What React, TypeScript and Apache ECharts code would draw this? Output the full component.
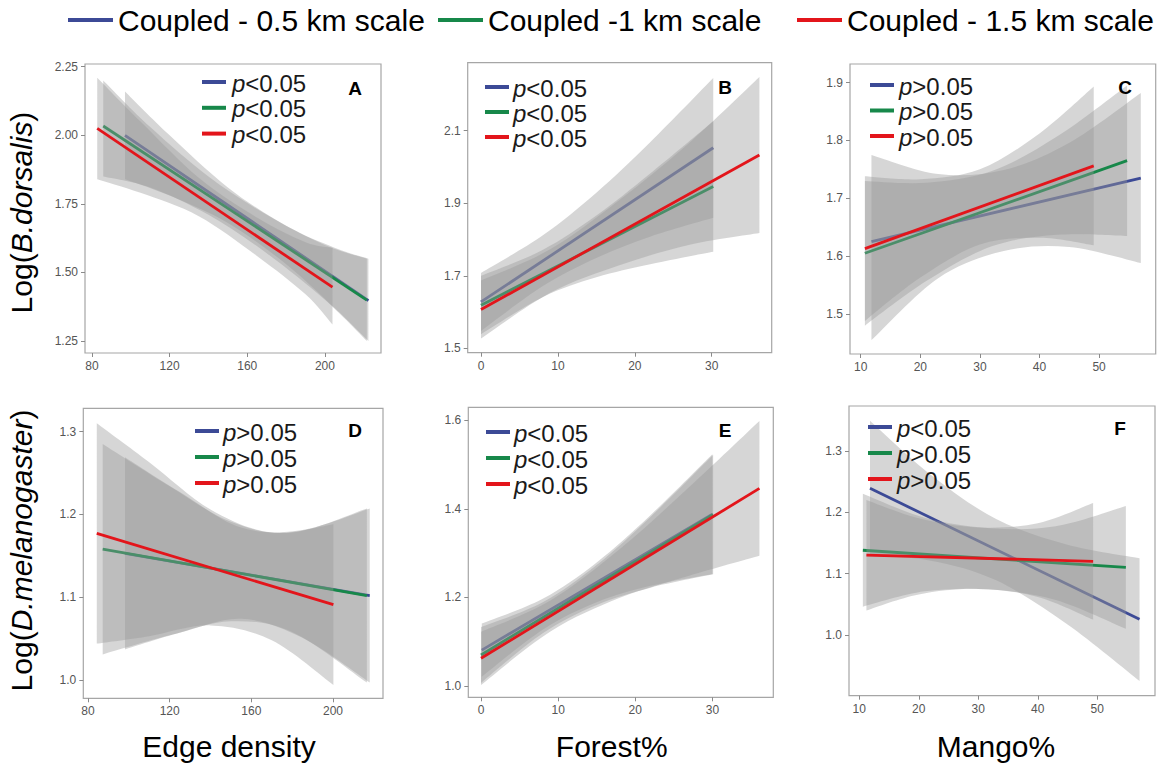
import React, { useEffect, useRef } from 'react';
import * as echarts from 'echarts';

// ---------- legend / labels ----------
const legendNames = ['Coupled - 0.5 km scale', 'Coupled -1 km scale', 'Coupled - 1.5 km scale'];
const lineColors = ['#3c4a96', '#17884a', '#e3151b'];
const panelLetters = ['A', 'B', 'C', 'D', 'E', 'F'];
const xTitles = ['Edge density', 'Forest%', 'Mango%'];
const pLabelsA = ['<0.05', '<0.05', '<0.05'];
const pLabelsB = ['<0.05', '<0.05', '<0.05'];
const pLabelsC = ['>0.05', '>0.05', '>0.05'];
const pLabelsD = ['>0.05', '>0.05', '>0.05'];
const pLabelsE = ['<0.05', '<0.05', '<0.05'];
const pLabelsF = ['<0.05', '>0.05', '>0.05'];

// ---------- ticks ----------
const xTicksEdge = [80, 120, 160, 200];
const xTicksForest = [0, 10, 20, 30];
const xTicksMango = [10, 20, 30, 40, 50];
const yTicksA = [1.25, 1.5, 1.75, 2.0, 2.25];
const yTicksB = [1.5, 1.7, 1.9, 2.1];
const yTicksC = [1.5, 1.6, 1.7, 1.8, 1.9];
const yTicksD = [1.0, 1.1, 1.2, 1.3];
const yTicksE = [1.0, 1.2, 1.4, 1.6];
const yTicksF = [1.0, 1.1, 1.2, 1.3];

// ---------- Panel A : B.dorsalis vs edge density ----------
const aBlueLine = [[97, 2.0], [222.4, 1.397]];
const aGreenLine = [[85.8, 2.034], [221.6, 1.399]];
const aRedLine = [[82.7, 2.025], [203.9, 1.446]];
const aBlueBandX = [97, 120, 150, 180, 205, 222.4];
const aBlueBandHi = [2.16, 2.0, 1.81, 1.67, 1.59, 1.55];
const aBlueBandLo = [1.84, 1.78, 1.68, 1.53, 1.37, 1.25];
const aGreenBandX = [85.8, 110, 140, 170, 200, 221.6];
const aGreenBandHi = [2.2, 2.03, 1.85, 1.71, 1.6, 1.55];
const aGreenBandLo = [1.85, 1.81, 1.71, 1.57, 1.4, 1.25];
const aRedBandX = [82.7, 105, 135, 165, 190, 203.9];
const aRedBandHi = [2.21, 2.05, 1.845, 1.7, 1.61, 1.59];
const aRedBandLo = [1.84, 1.79, 1.705, 1.56, 1.42, 1.31];

// ---------- Panel B : B.dorsalis vs forest% ----------
const bBlueLine = [[0, 1.628], [30.2, 2.053]];
const bGreenLine = [[0, 1.619], [30.2, 1.946]];
const bRedLine = [[0, 1.607], [36.2, 2.033]];
const bBlueBandX = [0, 8, 15, 22, 30.2];
const bBlueBandHi = [1.708, 1.811, 1.929, 2.068, 2.245];
const bBlueBandLo = [1.548, 1.671, 1.749, 1.808, 1.86];
const bGreenBandX = [0, 8, 15, 22, 30.2];
const bGreenBandHi = [1.7, 1.771, 1.866, 1.982, 2.126];
const bGreenBandLo = [1.539, 1.641, 1.696, 1.732, 1.766];
const bRedBandX = [0, 9, 18, 27, 36.2];
const bRedBandHi = [1.687, 1.773, 1.909, 2.065, 2.248];
const bRedBandLo = [1.527, 1.653, 1.729, 1.785, 1.818];

// ---------- Panel C : B.dorsalis vs mango% ----------
const cBlueLine = [[11.8, 1.625], [57.0, 1.735]];
const cGreenLine = [[10.7, 1.605], [54.7, 1.765]];
const cRedLine = [[10.7, 1.613], [49.1, 1.756]];
const cBlueBandX = [11.8, 23, 34, 45, 57];
const cBlueBandHi = [1.775, 1.742, 1.749, 1.796, 1.882];
const cBlueBandLo = [1.455, 1.562, 1.609, 1.616, 1.588];
const cGreenBandX = [10.7, 21, 32, 43, 54.7];
const cGreenBandHi = [1.73, 1.727, 1.747, 1.807, 1.895];
const cGreenBandLo = [1.48, 1.557, 1.617, 1.637, 1.635];
const cRedBandX = [10.7, 20, 30, 40, 49.1];
const cRedBandHi = [1.738, 1.733, 1.75, 1.812, 1.893];
const cRedBandLo = [1.488, 1.563, 1.62, 1.632, 1.619];

// ---------- Panel D : D.melanogaster vs edge density ----------
const dBlueLine = [[98.1, 1.153], [218, 1.102]];
const dGreenLine = [[87.2, 1.158], [216.6, 1.102]];
const dRedLine = [[84.3, 1.177], [200.2, 1.091]];
const dBlueBandX = [98.1, 125, 155, 185, 218];
const dBlueBandHi = [1.269, 1.227, 1.184, 1.181, 1.207];
const dBlueBandLo = [1.037, 1.057, 1.074, 1.051, 0.997];
const dGreenBandX = [87.2, 120, 150, 180, 216.6];
const dGreenBandHi = [1.285, 1.234, 1.191, 1.178, 1.207];
const dGreenBandLo = [1.031, 1.054, 1.071, 1.058, 0.997];
const dRedBandX = [84.3, 110, 140, 170, 200.2];
const dRedBandHi = [1.31, 1.263, 1.206, 1.178, 1.188];
const dRedBandLo = [1.044, 1.053, 1.066, 1.048, 0.994];

// ---------- Panel E : D.melanogaster vs forest% ----------
const eBlueLine = [[0.1, 1.081], [30, 1.388]];
const eGreenLine = [[0, 1.07], [30.1, 1.387]];
const eRedLine = [[0, 1.0625], [36.1, 1.446]];
const eBlueBandX = [0.1, 8, 15, 22, 30];
const eBlueBandHi = [1.141, 1.197, 1.279, 1.386, 1.523];
const eBlueBandLo = [1.021, 1.127, 1.189, 1.226, 1.253];
const eGreenBandX = [0, 8, 15, 22, 30.1];
const eGreenBandHi = [1.133, 1.189, 1.273, 1.382, 1.522];
const eGreenBandLo = [1.007, 1.119, 1.183, 1.222, 1.252];
const eRedBandX = [0, 9, 18, 27, 36.1];
const eRedBandHi = [1.1225, 1.193, 1.309, 1.449, 1.598];
const eRedBandLo = [1.0025, 1.123, 1.199, 1.249, 1.294];

// ---------- Panel F : D.melanogaster vs mango% ----------
const fBlueLine = [[11.8, 1.239], [57.1, 1.0254]];
const fGreenLine = [[10.6, 1.138], [54.8, 1.11]];
const fRedLine = [[11.2, 1.13], [49.3, 1.12]];
const fBlueBandX = [11.8, 22, 33, 45, 57.1];
const fBlueBandHi = [1.349, 1.261, 1.189, 1.147, 1.125];
const fBlueBandLo = [1.129, 1.121, 1.089, 1.017, 0.925];
const fGreenBandX = [10.6, 21, 32, 43, 54.8];
const fGreenBandHi = [1.23, 1.191, 1.174, 1.177, 1.21];
const fGreenBandLo = [1.046, 1.071, 1.074, 1.057, 1.01];
const fRedBandX = [11.2, 20, 30, 40, 49.3];
const fRedBandHi = [1.22, 1.19, 1.175, 1.182, 1.215];
const fRedBandLo = [1.04, 1.066, 1.075, 1.062, 1.025];

// ---------- layout (non-data) ----------
const FONT = '"Liberation Sans", Arial, Helvetica, sans-serif';
const BAND_FILL = 'rgba(153,153,153,0.4)';

type Panel = {
  grid: [number, number, number, number];
  xRange: [number, number];
  yRange: [number, number];
  xTicks: number[];
  yTicks: number[];
  yDec: number;
  lines: number[][][];
  bands: [number[], number[], number[]][];
  pLabels: string[];
  leg: { sx: number; sy: number; dy: number; tx: number };
  letter: [number, number];
};

const panels: Panel[] = [
  {
    grid: [85, 64, 296, 289], xRange: [76.4, 228.9], yRange: [1.206, 2.26],
    xTicks: xTicksEdge, yTicks: yTicksA, yDec: 2,
    lines: [aBlueLine, aGreenLine, aRedLine],
    bands: [[aBlueBandX, aBlueBandHi, aBlueBandLo], [aGreenBandX, aGreenBandHi, aGreenBandLo], [aRedBandX, aRedBandHi, aRedBandLo]],
    pLabels: pLabelsA, leg: { sx: 202, sy: 82, dy: 25.8, tx: 232 }, letter: [355, 88],
  },
  {
    grid: [467.7, 62.7, 304, 290], xRange: [-1.73, 37.8], yRange: [1.488, 2.2875],
    xTicks: xTicksForest, yTicks: yTicksB, yDec: 1,
    lines: [bBlueLine, bGreenLine, bRedLine],
    bands: [[bBlueBandX, bBlueBandHi, bBlueBandLo], [bGreenBandX, bGreenBandHi, bGreenBandLo], [bRedBandX, bRedBandHi, bRedBandLo]],
    pLabels: pLabelsB, leg: { sx: 485, sy: 87, dy: 25, tx: 513 }, letter: [725, 87],
  },
  {
    grid: [850, 64, 305.7, 290], xRange: [8.2, 59.5], yRange: [1.431, 1.932],
    xTicks: xTicksMango, yTicks: yTicksC, yDec: 1,
    lines: [cBlueLine, cGreenLine, cRedLine],
    bands: [[cBlueBandX, cBlueBandHi, cBlueBandLo], [cGreenBandX, cGreenBandHi, cGreenBandLo], [cRedBandX, cRedBandHi, cRedBandLo]],
    pLabels: pLabelsC, leg: { sx: 870, sy: 85, dy: 25.5, tx: 899 }, letter: [1125, 87],
  },
  {
    grid: [83.3, 408.3, 299.7, 290], xRange: [77.7, 224.5], yRange: [0.978, 1.328],
    xTicks: xTicksEdge, yTicks: yTicksD, yDec: 1,
    lines: [dBlueLine, dGreenLine, dRedLine],
    bands: [[dBlueBandX, dBlueBandHi, dBlueBandLo], [dGreenBandX, dGreenBandHi, dGreenBandLo], [dRedBandX, dRedBandHi, dRedBandLo]],
    pLabels: pLabelsD, leg: { sx: 195, sy: 431, dy: 26, tx: 223 }, letter: [355, 430],
  },
  {
    grid: [468.3, 407.3, 305, 290], xRange: [-1.65, 37.9], yRange: [0.9745, 1.629],
    xTicks: xTicksForest, yTicks: yTicksE, yDec: 1,
    lines: [eBlueLine, eGreenLine, eRedLine],
    bands: [[eBlueBandX, eBlueBandHi, eBlueBandLo], [eGreenBandX, eGreenBandHi, eGreenBandLo], [eRedBandX, eRedBandHi, eRedBandLo]],
    pLabels: pLabelsE, leg: { sx: 486, sy: 432, dy: 26, tx: 514 }, letter: [725, 430],
  },
  {
    grid: [849, 406, 306, 289.7], xRange: [8.27, 59.7], yRange: [0.901, 1.373],
    xTicks: xTicksMango, yTicks: yTicksF, yDec: 1,
    lines: [fBlueLine, fGreenLine, fRedLine],
    bands: [[fBlueBandX, fBlueBandHi, fBlueBandLo], [fGreenBandX, fGreenBandHi, fGreenBandLo], [fRedBandX, fRedBandHi, fRedBandLo]],
    pLabels: pLabelsF, leg: { sx: 868, sy: 427, dy: 26, tx: 897 }, letter: [1120, 428],
  },
];

const legendLefts = [68, 438, 797];
const xTitlePos = [[229, 746], [611.7, 746], [996, 746]];

function smoothSeg(p: number[][]): string {
  let d = '';
  for (let i = 0; i < p.length - 1; i++) {
    const p0 = p[i - 1] || p[i];
    const p1 = p[i];
    const p2 = p[i + 1];
    const p3 = p[i + 2] || p[i + 1];
    const c1x = p1[0] + (p2[0] - p0[0]) / 6;
    const c1y = p1[1] + (p2[1] - p0[1]) / 6;
    const c2x = p2[0] - (p3[0] - p1[0]) / 6;
    const c2y = p2[1] - (p3[1] - p1[1]) / 6;
    d += ` C${c1x.toFixed(2)},${c1y.toFixed(2)} ${c2x.toFixed(2)},${c2y.toFixed(2)} ${p2[0].toFixed(2)},${p2[1].toFixed(2)}`;
  }
  return d;
}

function bandRenderer(xs: number[], hi: number[], lo: number[]) {
  return (_params: any, api: any) => {
    const up = xs.map((x, i) => api.coord([x, hi[i]]));
    const dn = xs.map((x, i) => api.coord([x, lo[i]])).reverse();
    const d = `M${up[0][0].toFixed(2)},${up[0][1].toFixed(2)}` + smoothSeg(up) +
      ` L${dn[0][0].toFixed(2)},${dn[0][1].toFixed(2)}` + smoothSeg(dn) + ' Z';
    return { type: 'path', shape: { pathData: d }, style: { fill: BAND_FILL, stroke: null } };
  };
}

function buildOption() {
  const grid: any[] = [];
  const xAxis: any[] = [];
  const yAxis: any[] = [];
  const series: any[] = [];
  const graphic: any[] = [];

  panels.forEach((p, i) => {
    grid.push({
      left: p.grid[0], top: p.grid[1], width: p.grid[2], height: p.grid[3],
      show: true, borderColor: '#a6a6a6', borderWidth: 1.2, backgroundColor: 'transparent',
    });
    xAxis.push({
      type: 'value', gridIndex: i, min: p.xRange[0], max: p.xRange[1],
      splitLine: { show: false },
      axisLine: { show: false, onZero: false },
      axisTick: { show: true, length: 4, lineStyle: { color: '#8a8a8a', width: 1 }, customValues: p.xTicks },
      axisLabel: { customValues: p.xTicks, color: '#555555', fontSize: 12, margin: 7, fontFamily: FONT, formatter: (v: number) => String(Math.round(v)) },
    });
    yAxis.push({
      type: 'value', gridIndex: i, min: p.yRange[0], max: p.yRange[1],
      splitLine: { show: false },
      axisLine: { show: false, onZero: false },
      axisTick: { show: true, length: 4, lineStyle: { color: '#8a8a8a', width: 1 }, customValues: p.yTicks },
      axisLabel: { customValues: p.yTicks, color: '#555555', fontSize: 12, margin: 7, fontFamily: FONT, formatter: (v: number) => v.toFixed(p.yDec) },
    });
    for (let k = 0; k < 3; k++) {
      const [bx, bh, bl] = p.bands[k];
      series.push({
        type: 'custom', name: 'band' + i + k, xAxisIndex: i, yAxisIndex: i,
        z: 2 + 2 * k, silent: true,
        data: [[bx[0], bl[0]]],
        renderItem: bandRenderer(bx, bh, bl),
      });
      series.push({
        type: 'line', name: legendNames[k], xAxisIndex: i, yAxisIndex: i,
        z: 3 + 2 * k, data: p.lines[k], showSymbol: false, symbol: 'none', silent: true,
        lineStyle: { width: 2.8, color: lineColors[k] }, itemStyle: { color: lineColors[k] },
      });
    }
    // inner legend
    for (let k = 0; k < 3; k++) {
      const y = p.leg.sy + k * p.leg.dy;
      graphic.push({
        type: 'line', z: 100,
        shape: { x1: p.leg.sx, y1: y, x2: p.leg.sx + 24, y2: y },
        style: { stroke: lineColors[k], lineWidth: 4 },
      });
      graphic.push({
        type: 'text', z: 100, x: p.leg.tx, y: y + 1,
        style: {
          text: '{i|p}{n|' + p.pLabels[k] + '}',
          rich: {
            i: { fontStyle: 'italic', fontSize: 24, fontFamily: FONT, fill: '#1a1a1a' },
            n: { fontSize: 24, fontFamily: FONT, fill: '#1a1a1a' },
          },
          fontSize: 24, fontFamily: FONT, fill: '#1a1a1a',
          align: 'left', verticalAlign: 'middle',
        },
      });
    }
    graphic.push({
      type: 'text', z: 100, x: p.letter[0], y: p.letter[1],
      style: { text: panelLetters[i], fontSize: 19, fontWeight: 'bold', fontFamily: FONT, fill: '#000', align: 'center', verticalAlign: 'middle' },
    });
  });

  xTitles.forEach((t, j) => {
    graphic.push({
      type: 'text', x: xTitlePos[j][0], y: xTitlePos[j][1],
      style: { text: t, fontSize: 30, fontFamily: FONT, fill: '#000', align: 'center', verticalAlign: 'middle' },
    });
  });

  graphic.push({
    type: 'text', x: 21, y: 212.5, rotation: Math.PI / 2,
    style: {
      text: '{n|Log(}{i|B.dorsalis}{n|)}',
      rich: {
        n: { fontSize: 30, fontFamily: FONT, fill: '#000' },
        i: { fontSize: 30, fontFamily: FONT, fontStyle: 'italic', fill: '#000' },
      },
      fontSize: 30, fontFamily: FONT, align: 'center', verticalAlign: 'middle',
    },
  });
  graphic.push({
    type: 'text', x: 21, y: 550.5, rotation: Math.PI / 2,
    style: {
      text: '{n|Log(}{i|D.melanogaster}{n|)}',
      rich: {
        n: { fontSize: 30, fontFamily: FONT, fill: '#000' },
        i: { fontSize: 30, fontFamily: FONT, fontStyle: 'italic', fill: '#000' },
      },
      fontSize: 30, fontFamily: FONT, align: 'center', verticalAlign: 'middle',
    },
  });

  const legend = legendNames.map((n, k) => ({
    data: [n], left: legendLefts[k], top: 5, icon: 'rect', itemWidth: 45, itemHeight: 4,
    selectedMode: false, padding: 0,
    textStyle: { fontSize: 30, color: '#000', fontFamily: FONT, lineHeight: 30 },
  }));

  return {
    animation: false,
    backgroundColor: '#ffffff',
    textStyle: { fontFamily: FONT },
    legend, grid, xAxis, yAxis, series, graphic,
  };
}

export default function App() {
  const ref = useRef<HTMLDivElement>(null);
  useEffect(() => {
    if (!ref.current) return;
    const chart = echarts.init(ref.current, undefined, { renderer: 'svg' });
    chart.setOption(buildOption() as any);
    return () => chart.dispose();
  }, []);
  return (
    <div
      ref={ref}
      style={{ position: 'fixed', left: 0, top: 0, width: 1170, height: 775, background: '#fff' }}
    />
  );
}
